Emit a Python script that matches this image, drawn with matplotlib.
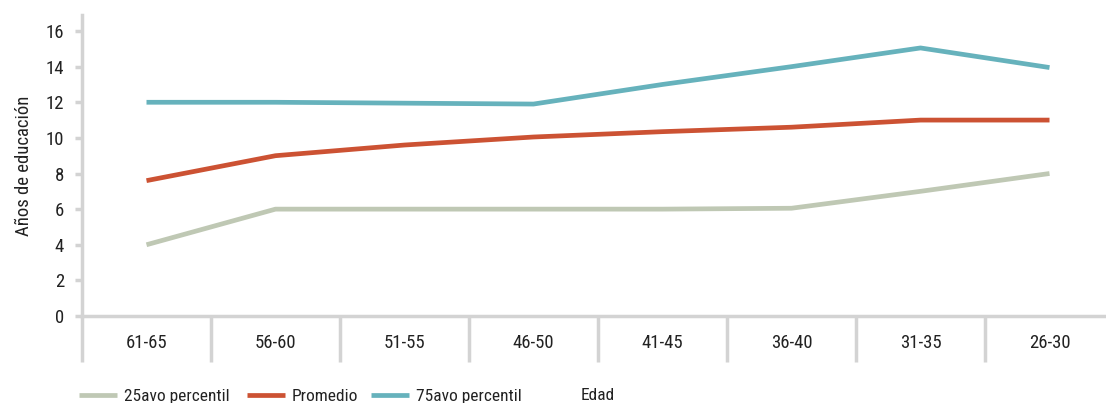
import numpy as np
import matplotlib
matplotlib.use('Agg')
import matplotlib.pyplot as plt

plt.rcParams['font.family'] = ['Roboto Condensed', 'Liberation Sans Narrow', 'DejaVu Sans Condensed', 'DejaVu Sans']

edades = ['61-65', '56-60', '51-55', '46-50', '41-45', '36-40', '31-35', '26-30']
p25 = [4.0, 6.0, 6.0, 6.0, 6.0, 6.05, 7.0, 8.0]
promedio = [7.6, 9.0, 9.6, 10.05, 10.35, 10.6, 11.0, 11.0]
p75 = [12.0, 12.0, 11.95, 11.9, 13.0, 14.0, 15.05, 13.95]
yticks = [0, 2, 4, 6, 8, 10, 12, 14, 16]

c25, cprom, c75 = '#BFC8B4', '#CC5233', '#66B2BC'
grey = '#D3D3D3'
txt = '#222222'
fs = 13.5

fig = plt.figure(figsize=(11.06, 4.03), dpi=100)
# axes run a little past the right edge, as in the original crop
ax = fig.add_axes([82/1106, 87/403, 1032/1106, 301/403])

x = np.arange(len(edades))
l25, = ax.plot(x, p25, color=c25, lw=3.4, label='25avo percentil', solid_capstyle='butt')
lpr, = ax.plot(x, promedio, color=cprom, lw=3.4, label='Promedio', solid_capstyle='butt')
l75, = ax.plot(x, p75, color=c75, lw=3.4, label='75avo percentil', solid_capstyle='butt')

ax.set_xlim(-0.5, len(edades) - 0.5)
ax.set_ylim(0, 16.9)

for s in ['top', 'right']:
    ax.spines[s].set_visible(False)
for s in ['left', 'bottom']:
    ax.spines[s].set_color(grey)
    ax.spines[s].set_linewidth(2.5)

ax.set_yticks(yticks)
ax.tick_params(axis='y', colors=grey, length=5, width=2.5, pad=8, labelsize=fs, labelcolor=txt)

# category separators as major ticks, labels on minor ticks
ax.set_xticks(np.arange(len(edades) + 1) - 0.5)
ax.set_xticklabels([])
ax.tick_params(axis='x', which='major', colors=grey, length=33, width=2.5, direction='out')
ax.set_xticks(x, minor=True)
ax.set_xticklabels(edades, minor=True)
ax.tick_params(axis='x', which='minor', length=0, pad=13, labelsize=fs, labelcolor=txt)

ax.set_ylabel('Años de educación', fontsize=fs, color=txt, labelpad=9)

# one legend per entry so each sits where the original has it
for h, xpos in [(l25, 79), (lpr, 247), (l75, 371)]:
    fig.legend(handles=[h], loc='center left', bbox_to_anchor=(xpos/1106, 7/403),
               frameon=False, fontsize=12.5, handlelength=2.2, handletextpad=0.38,
               borderpad=0, borderaxespad=0, labelcolor=txt)
fig.text(581/1106, 7/403, 'Edad', fontsize=12.5, color=txt, va='center')

fig.savefig('out.png', dpi=100)
